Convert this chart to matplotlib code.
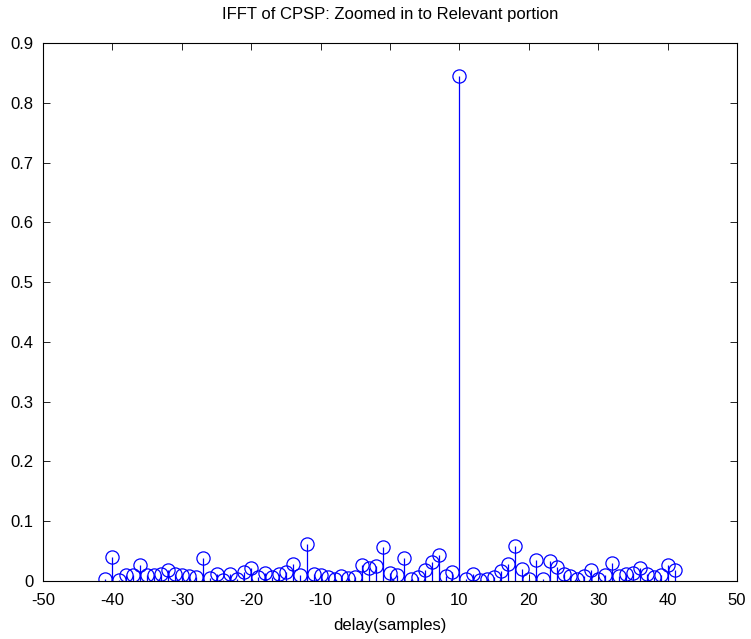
import matplotlib
matplotlib.use("Agg")
import matplotlib.pyplot as plt
import numpy as np

delays = list(range(-41, 42))
values = [0.004, 0.040, 0.002, 0.010, 0.010, 0.027, 0.010, 0.010, 0.012, 0.018,
          0.012, 0.010, 0.008, 0.007, 0.038, 0.005, 0.012, 0.002, 0.011, 0.003,
          0.015, 0.022, 0.006, 0.013, 0.007, 0.011, 0.015, 0.028, 0.010, 0.062,
          0.012, 0.010, 0.007, 0.004, 0.009, 0.005, 0.006, 0.026, 0.022, 0.025,
          0.057, 0.013, 0.010, 0.038, 0.003, 0.007, 0.018, 0.032, 0.043, 0.008,
          0.015, 0.845, 0.003, 0.012, 0.002, 0.003, 0.007, 0.017, 0.028, 0.058,
          0.020, 0.003, 0.035, 0.004, 0.033, 0.024, 0.012, 0.008, 0.003, 0.008,
          0.019, 0.003, 0.010, 0.030, 0.008, 0.012, 0.013, 0.022, 0.012, 0.007,
          0.010, 0.026, 0.018]
xticks = [-50, -40, -30, -20, -10, 0, 10, 20, 30, 40, 50]
yticks = [0, 0.1, 0.2, 0.3, 0.4, 0.5, 0.6, 0.7, 0.8, 0.9]

plt.rcParams['font.family'] = ['Liberation Sans', 'DejaVu Sans']

fig = plt.figure(figsize=(7.51, 6.39), dpi=100)
ax = fig.add_axes([0.0573, 0.0908, 0.9241, 0.8419])

ml, sl, bl = ax.stem(delays, values, linefmt='-', markerfmt='o', basefmt=' ')
sl.set_color('#0000ff')
sl.set_linewidth(0.9)
plt.setp(ml, color='#0000ff', markerfacecolor='none', markersize=9.5, markeredgewidth=0.9)

ax.set_xlim(-50, 50)
ax.set_ylim(0, 0.9)
ax.set_xticks(xticks)
ax.set_yticks(yticks)
ax.set_xticklabels([str(t) for t in xticks])
ax.set_yticklabels(['0'] + ['%.1f' % t for t in yticks[1:]])
ax.tick_params(direction='in', top=True, right=True, length=5, width=0.6, labelsize=12)
ax.tick_params(axis='x', pad=9)
ax.tick_params(axis='y', pad=7)
for s in ax.spines.values():
    s.set_linewidth(0.8)
ax.set_title('IFFT of CPSP: Zoomed in to Relevant portion', fontsize=12, pad=17)
ax.set_xlabel('delay(samples)', fontsize=12, labelpad=7)

fig.savefig('out.png', dpi=100, facecolor='white')
